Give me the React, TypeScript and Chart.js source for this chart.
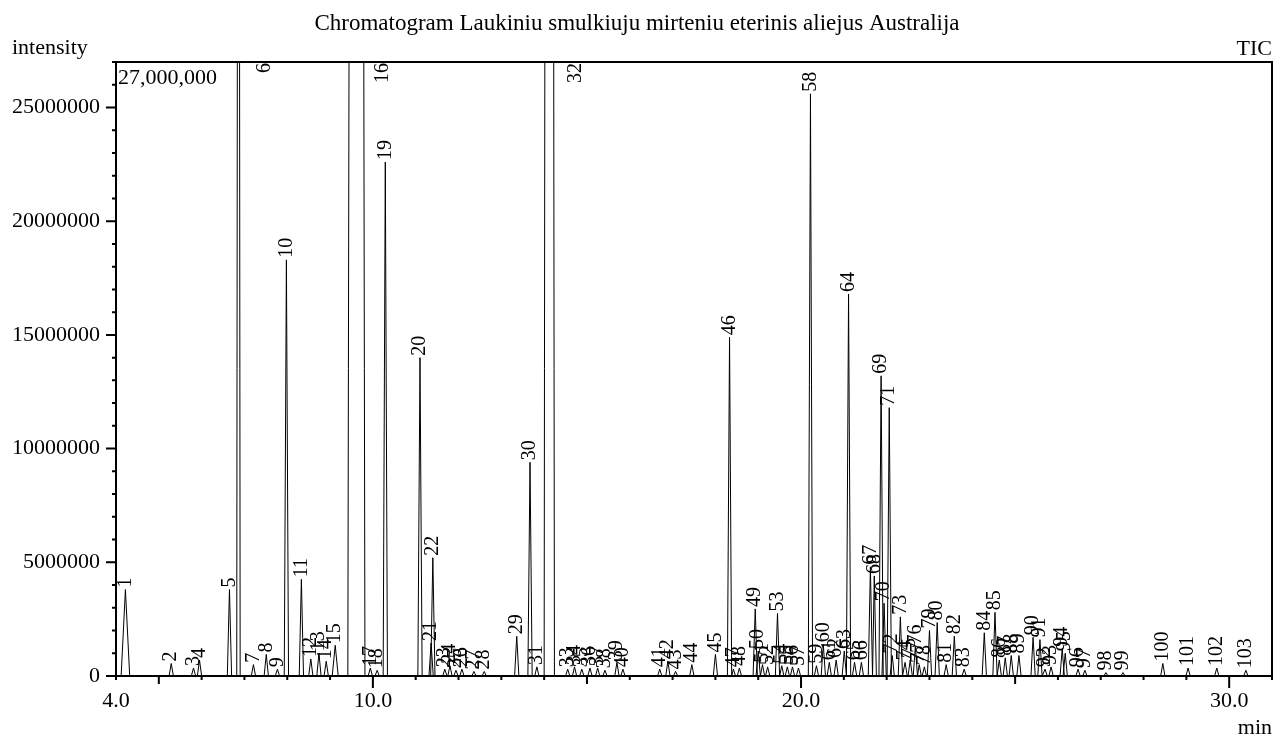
import React, { useEffect, useRef } from "react";
import { Chart, registerables } from "chart.js";

Chart.register(...registerables);

const TITLE = "Chromatogram Laukiniu smulkiuju mirteniu eterinis aliejus Australija";
const Y_TITLE = "intensity";
const X_TITLE = "min";
const TRACE_NAME = "TIC";
const Y_MAX_LABEL = "27,000,000";

const X_MIN = 4.0;
const X_MAX = 31.0;
const Y_MIN = 0;
const Y_MAX = 27000000;
const Y_STEP = 1000000;
const Y_LABEL_STEP = 5000000;
const xTickLabels = [4, 10, 20, 30];

const peakNumbers = [
  "1", "2", "3", "4", "5", "6", "7", "8", "9", "10",
  "11", "12", "13", "14", "15", "16", "17", "18", "19", "20",
  "21", "22", "23", "24", "25", "26", "27", "28", "29", "30",
  "31", "32", "33", "34", "35", "36", "37", "38", "39", "40",
  "41", "42", "43", "44", "45", "46", "47", "48", "49", "50",
  "51", "52", "53", "54", "55", "56", "57", "58", "59", "60",
  "61", "62", "63", "64", "65", "66", "67", "68", "69", "70",
  "71", "72", "73", "74", "75", "76", "77", "78", "79", "80",
  "81", "82", "83", "84", "85", "86", "87", "88", "89", "90",
  "91", "92", "93", "94", "95", "96", "97", "98", "99", "100",
  "101", "102", "103",
];

const peakTimes = [
  4.22, 5.29, 5.81, 5.95, 6.65, 6.86, 7.21, 7.51, 7.77, 7.98,
  8.33, 8.55, 8.74, 8.91, 9.12, 9.615, 9.94, 10.1, 10.29, 11.1,
  11.36, 11.4, 11.68, 11.8, 11.94, 12.08, 12.36, 12.6, 13.36, 13.67,
  13.83, 14.12, 14.55, 14.71, 14.88, 15.07, 15.25, 15.42, 15.7, 15.84,
  16.7, 16.89, 17.07, 17.45, 18.0, 18.33, 18.42, 18.56, 18.93, 19.0,
  19.1, 19.22, 19.45, 19.55, 19.68, 19.8, 19.94, 20.22, 20.36, 20.52,
  20.66, 20.82, 21.01, 21.11, 21.25, 21.41, 21.62, 21.71, 21.87, 21.94,
  22.06, 22.13, 22.32, 22.43, 22.55, 22.67, 22.76, 22.88, 23.0, 23.18,
  23.39, 23.58, 23.81, 24.28, 24.53, 24.63, 24.77, 24.91, 25.09, 25.42,
  25.58, 25.7, 25.84, 26.1, 26.17, 26.47, 26.63, 27.12, 27.52, 28.45,
  29.04, 29.71, 30.39,
];

const peakHeights = [
  3.8e6, 0.55e6, 0.35e6, 0.7e6, 3.8e6, 80e6, 0.5e6, 0.95e6, 0.3e6, 18.3e6,
  4.25e6, 0.75e6, 1.0e6, 0.65e6, 1.35e6, 200e6, 0.35e6, 0.25e6, 22.6e6, 14.0e6,
  1.45e6, 5.2e6, 0.3e6, 0.45e6, 0.25e6, 0.3e6, 0.2e6, 0.2e6, 1.75e6, 9.4e6,
  0.4e6, 200e6, 0.3e6, 0.4e6, 0.3e6, 0.35e6, 0.35e6, 0.25e6, 0.6e6, 0.3e6,
  0.3e6, 0.65e6, 0.2e6, 0.5e6, 0.95e6, 14.9e6, 0.3e6, 0.35e6, 2.95e6, 1.1e6,
  0.5e6, 0.4e6, 2.75e6, 0.45e6, 0.4e6, 0.4e6, 0.35e6, 25.6e6, 0.45e6, 1.4e6,
  0.6e6, 0.7e6, 1.1e6, 16.8e6, 0.6e6, 0.6e6, 4.8e6, 4.4e6, 13.2e6, 3.2e6,
  11.8e6, 0.9e6, 2.6e6, 0.6e6, 0.7e6, 1.3e6, 0.5e6, 0.4e6, 2.0e6, 2.35e6,
  0.5e6, 1.75e6, 0.3e6, 1.9e6, 2.8e6, 0.7e6, 0.8e6, 0.9e6, 0.9e6, 1.7e6,
  1.6e6, 0.3e6, 0.4e6, 1.2e6, 1.0e6, 0.3e6, 0.25e6, 0.15e6, 0.15e6, 0.55e6,
  0.35e6, 0.35e6, 0.25e6,
];

// half widths (minutes) of the peaks that are not narrow spikes
const DEFAULT_HALF_WIDTH = 0.05;
const specialHalfWidths: Record<string, number> = {
  "1": 0.1,
  "6": 0.04,
  "15": 0.07,
  "16": 0.2,
  "32": 0.12,
};

const FONT = "'Liberation Serif', 'Times New Roman', serif";

function buildTrace() {
  const pts: { x: number; y: number }[] = [{ x: X_MIN, y: 0 }];
  peakTimes.forEach((t, i) => {
    const w = specialHalfWidths[peakNumbers[i]] ?? DEFAULT_HALF_WIDTH;
    pts.push({ x: t - w, y: 0 }, { x: t, y: peakHeights[i] }, { x: t + w, y: 0 });
  });
  pts.push({ x: X_MAX, y: 0 });
  return pts;
}

const decorPlugin = {
  id: "decor",
  afterDraw(chart: any) {
    const { ctx, chartArea, scales } = chart;
    const { left, right, top, bottom } = chartArea;
    const xs = scales.x;
    const ys = scales.y;
    ctx.save();
    ctx.strokeStyle = "#000";
    ctx.lineWidth = 2;
    // top and right frame
    ctx.beginPath();
    ctx.moveTo(left - 1, top);
    ctx.lineTo(right, top);
    ctx.lineTo(right, bottom + 1);
    ctx.stroke();
    // x tick marks
    ctx.beginPath();
    for (let v = X_MIN; v <= X_MAX + 1e-9; v += 1) {
      const r = Math.round(v);
      const len = r % 10 === 0 ? 12 : r % 5 === 0 ? 8 : 4;
      const px = xs.getPixelForValue(r);
      ctx.moveTo(px, bottom);
      ctx.lineTo(px, bottom + len);
    }
    // y tick marks
    for (let v = Y_MIN; v <= Y_MAX; v += Y_STEP) {
      const len = v % Y_LABEL_STEP === 0 ? 10 : 4;
      const py = ys.getPixelForValue(v);
      ctx.moveTo(left - len, py);
      ctx.lineTo(left, py);
    }
    ctx.stroke();

    // texts
    ctx.fillStyle = "#000";
    ctx.textBaseline = "alphabetic";
    ctx.font = `23px ${FONT}`;
    ctx.textAlign = "center";
    ctx.fillText(TITLE, chart.width / 2, 30);
    ctx.font = `22px ${FONT}`;
    ctx.textAlign = "left";
    ctx.fillText(Y_TITLE, 12, 54);
    ctx.fillText(Y_MAX_LABEL, left + 2, 84);
    ctx.textAlign = "right";
    ctx.fillText(TRACE_NAME, right, 55);
    ctx.fillText(X_TITLE, right, 734);

    // peak labels
    ctx.beginPath();
    ctx.rect(left, top, right - left, bottom - top);
    ctx.clip();
    ctx.font = `20px ${FONT}`;
    ctx.textBaseline = "middle";
    peakTimes.forEach((t, i) => {
      const h = peakHeights[i];
      const label = peakNumbers[i];
      let px = xs.getPixelForValue(t);
      ctx.save();
      if (h > Y_MAX) {
        px += 26;
        ctx.translate(px, top + 1);
        ctx.rotate(-Math.PI / 2);
        ctx.textAlign = "right";
        ctx.fillText(label, 0, 0);
      } else {
        const py = ys.getPixelForValue(h);
        ctx.translate(px, py - 2);
        ctx.rotate(-Math.PI / 2);
        ctx.textAlign = "left";
        ctx.fillText(label, 0, 0);
      }
      ctx.restore();
    });
    ctx.restore();
  },
};

export default function App() {
  const canvasRef = useRef<HTMLCanvasElement | null>(null);

  useEffect(() => {
    document.body.style.margin = "0";
    const canvas = canvasRef.current;
    if (!canvas) return;
    const chart = new Chart(canvas, {
      type: "line",
      data: {
        datasets: [
          {
            label: TRACE_NAME,
            data: buildTrace(),
            borderColor: "#000",
            borderWidth: 1,
            pointRadius: 0,
            tension: 0,
            fill: false,
          },
        ],
      },
      options: {
        animation: false,
        responsive: false,
        devicePixelRatio: 1,
        layout: { padding: { top: 62, right: 2, left: 0, bottom: 0 } },
        plugins: {
          legend: { display: false },
          tooltip: { enabled: false },
          title: { display: false },
        },
        scales: {
          x: {
            type: "linear",
            min: X_MIN,
            max: X_MAX,
            grid: { display: false, drawTicks: false },
            border: { display: true, color: "#000", width: 2 },
            ticks: {
              stepSize: 1,
              autoSkip: false,
              maxRotation: 0,
              minRotation: 0,
              padding: 12,
              color: "#000",
              font: { family: FONT, size: 22 },
              callback: (v: any) => (xTickLabels.includes(Number(v)) ? Number(v).toFixed(1) : ""),
            },
            afterFit: (s: any) => {
              s.height = 62;
              s.paddingLeft = 0;
              s.paddingRight = 0;
            },
          },
          y: {
            type: "linear",
            min: Y_MIN,
            max: Y_MAX,
            grid: { display: false, drawTicks: false },
            border: { display: true, color: "#000", width: 2 },
            ticks: {
              stepSize: Y_STEP,
              autoSkip: false,
              padding: 16,
              color: "#000",
              font: { family: FONT, size: 22 },
              callback: (v: any) => (Number(v) % Y_LABEL_STEP === 0 ? String(v) : ""),
            },
            afterFit: (s: any) => {
              s.width = 116;
              s.paddingTop = 0;
              s.paddingBottom = 0;
            },
          },
        },
      },
      plugins: [decorPlugin],
    } as any);
    return () => chart.destroy();
  }, []);

  return (
    <canvas
      ref={canvasRef}
      width={1274}
      height={738}
      style={{ display: "block", width: "1274px", height: "738px" }}
    />
  );
}
